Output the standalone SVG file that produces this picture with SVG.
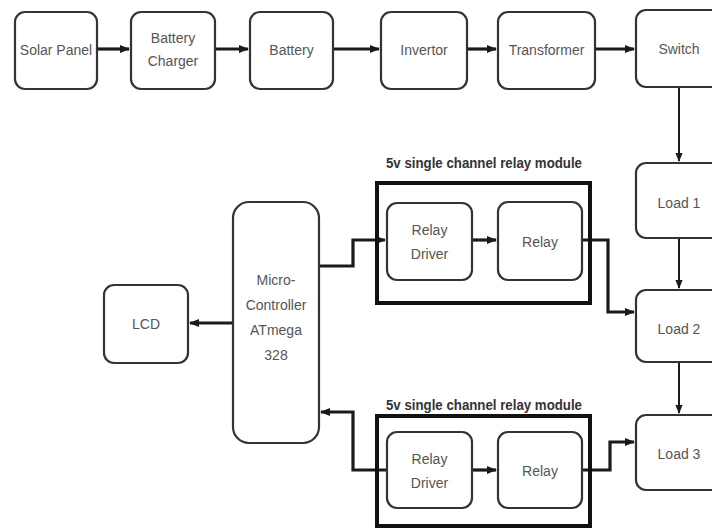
<svg xmlns="http://www.w3.org/2000/svg" width="712" height="530" viewBox="0 0 712 530">
<defs>
<marker id="ah" viewBox="0 0 10 10" refX="9" refY="5" markerWidth="3.2" markerHeight="3.2" orient="auto" markerUnits="strokeWidth">
<path d="M0,1 L10,5 L0,9 z" fill="#1a1a1a"/>
</marker>
<marker id="ah2" viewBox="0 0 10 10" refX="9" refY="5" markerWidth="4.5" markerHeight="4.5" orient="auto" markerUnits="strokeWidth">
<path d="M0,1 L10,5 L0,9 z" fill="#1a1a1a"/>
</marker>
<style>
.box{fill:#fff;stroke:#333;stroke-width:2.2}
.mod{fill:none;stroke:#111;stroke-width:4}
.t{font-family:"Liberation Sans",Arial,sans-serif;font-size:14px;fill:#555;text-anchor:middle}
.lbl{font-family:"Liberation Sans",Arial,sans-serif;font-size:15px;font-weight:bold;fill:#333;text-anchor:middle}
.c{fill:none;stroke:#1a1a1a;stroke-width:3.2}
.cv{fill:none;stroke:#1a1a1a;stroke-width:2}
</style>
</defs>
<rect width="712" height="530" fill="#fff"/>

<g id="connectors">
<path class="c" d="M97,49 L129,49" marker-end="url(#ah)"/>
<path class="c" d="M215,49 L248,49" marker-end="url(#ah)"/>
<path class="c" d="M333,49 L379,49" marker-end="url(#ah)"/>
<path class="c" d="M467,49 L496,49" marker-end="url(#ah)"/>
<path class="c" d="M595,49 L634,49" marker-end="url(#ah)"/>
<path class="cv" d="M679,87 L679,161" marker-end="url(#ah2)"/>
<path class="cv" d="M679,238 L679,288" marker-end="url(#ah2)"/>
<path class="cv" d="M679,362 L679,413" marker-end="url(#ah2)"/>
<path class="c" d="M233,323 L190,323" marker-end="url(#ah)"/>
<path class="c" d="M319,266 L353,266 L353,240 L385,240" marker-end="url(#ah)"/>
<path class="c" d="M472,240 L496,240" marker-end="url(#ah)"/>
<path class="c" d="M582,240 L608,240 L608,312 L634,312" marker-end="url(#ah)"/>
<path class="c" d="M387,470 L353,470 L353,412 L321,412" marker-end="url(#ah)"/>
<path class="c" d="M472,470 L496,470" marker-end="url(#ah)"/>
<path class="c" d="M582,470 L610,470 L610,442 L634,442" marker-end="url(#ah)"/>
</g>

<g id="solar-panel"><rect class="box" x="15" y="12" width="82" height="77" rx="10"/><text class="t" x="56" y="55">Solar Panel</text></g>
<g id="battery-charger"><rect class="box" x="131" y="12" width="84" height="77" rx="10"/><text class="t" x="173" y="43">Battery</text><text class="t" x="173" y="66">Charger</text></g>
<g id="battery"><rect class="box" x="250" y="12" width="83" height="77" rx="10"/><text class="t" x="291.5" y="55">Battery</text></g>
<g id="invertor"><rect class="box" x="381" y="12" width="86" height="77" rx="10"/><text class="t" x="424" y="55">Invertor</text></g>
<g id="transformer"><rect class="box" x="498" y="12" width="97" height="77" rx="10"/><text class="t" x="546.5" y="55">Transformer</text></g>
<g id="switch"><rect class="box" x="636" y="10" width="90" height="77" rx="10"/><text class="t" x="679" y="54">Switch</text></g>

<g id="load-1"><rect class="box" x="636" y="163" width="90" height="75" rx="10"/><text class="t" x="679" y="208">Load 1</text></g>
<g id="load-2"><rect class="box" x="636" y="290" width="90" height="72" rx="10"/><text class="t" x="679" y="334">Load 2</text></g>
<g id="load-3"><rect class="box" x="636" y="415" width="90" height="75" rx="10"/><text class="t" x="679" y="459">Load 3</text></g>

<g id="lcd"><rect class="box" x="104" y="285" width="84" height="78" rx="10"/><text class="t" x="146" y="329">LCD</text></g>
<g id="microcontroller"><rect class="box" x="233" y="202" width="86" height="241" rx="16"/>
<text class="t" x="276" y="285">Micro-</text><text class="t" x="276" y="310">Controller</text><text class="t" x="276" y="335">ATmega</text><text class="t" x="276" y="360">328</text></g>

<g id="relay-module-1">
<text class="lbl" x="484" y="168" textLength="196" lengthAdjust="spacingAndGlyphs">5v single channel relay module</text>
<rect class="mod" x="377" y="183" width="213" height="120"/>
</g>
<g id="relay-driver-1"><rect class="box" x="387" y="203" width="85" height="77" rx="10"/><text class="t" x="429.5" y="235">Relay</text><text class="t" x="429.5" y="259">Driver</text></g>
<g id="relay-1"><rect class="box" x="498" y="202" width="84" height="78" rx="10"/><text class="t" x="540" y="247">Relay</text></g>

<g id="relay-module-2">
<text class="lbl" x="484" y="410" textLength="196" lengthAdjust="spacingAndGlyphs">5v single channel relay module</text>
<rect class="mod" x="377" y="416" width="213" height="110"/>
</g>
<g id="relay-driver-2"><rect class="box" x="387" y="432" width="85" height="76" rx="10"/><text class="t" x="429.5" y="464">Relay</text><text class="t" x="429.5" y="488">Driver</text></g>
<g id="relay-2"><rect class="box" x="498" y="432" width="84" height="76" rx="10"/><text class="t" x="540" y="476">Relay</text></g>
</svg>
